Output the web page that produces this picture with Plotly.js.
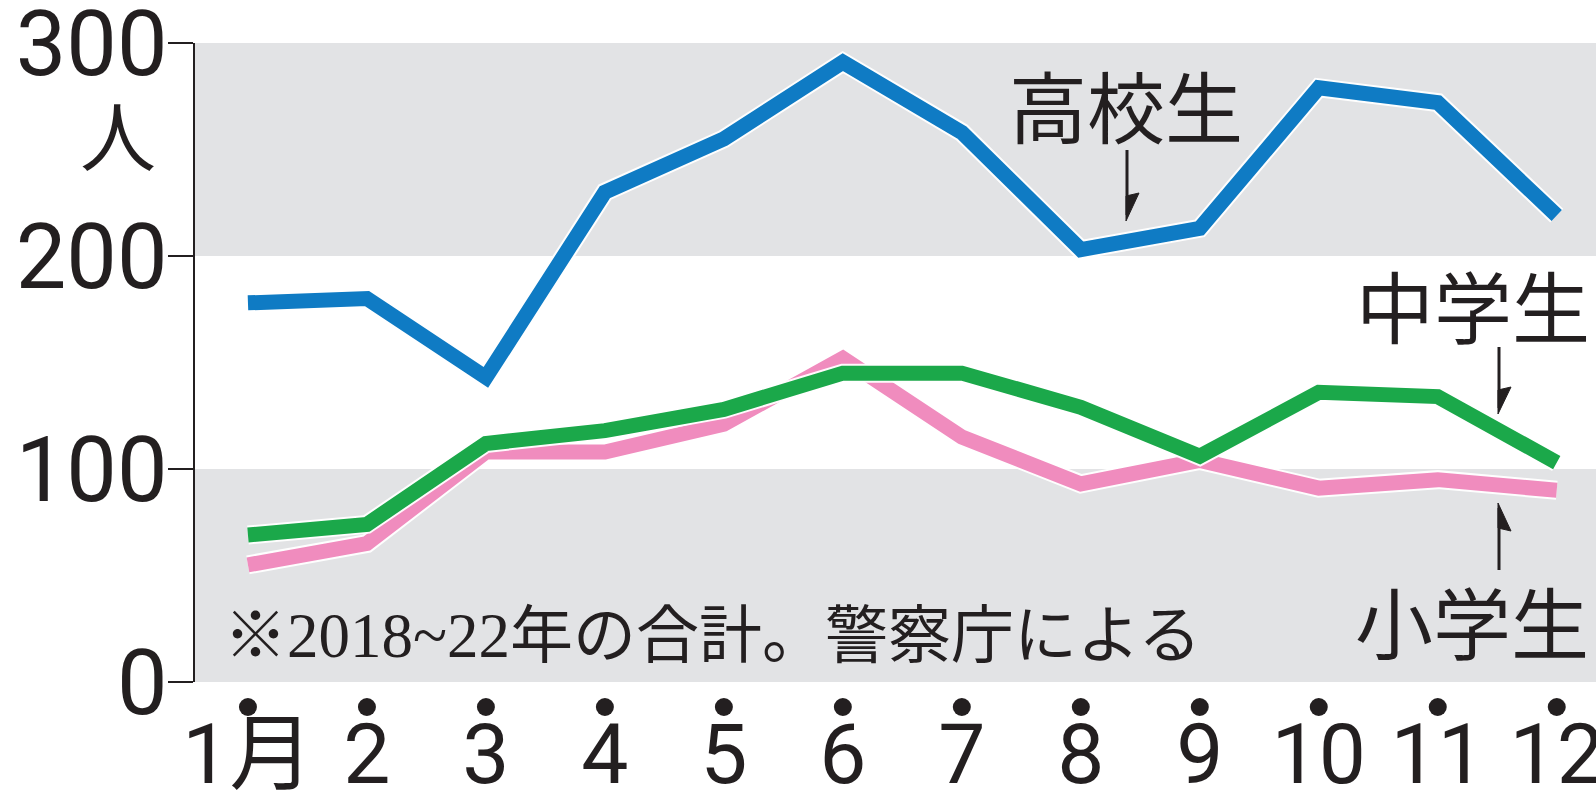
<!DOCTYPE html>
<html>
<head>
<meta charset="utf-8">
<script src="https://cdn.plot.ly/plotly-3.0.1.min.js"></script>
<style>
html,body{margin:0;padding:0;background:#fff;}
#chart{width:1596px;height:802px;}
</style>
</head>
<body>
<div id="chart"></div>
<script>
// ---- data ----
const months = [1, 2, 3, 4, 5, 6, 7, 8, 9, 10, 11, 12];
const monthLabels = ['1月', '2', '3', '4', '5', '6', '7', '8', '9', '10', '11', '12'];
const highSchool = [178, 180, 143, 230, 255, 291, 258, 203, 213, 279, 272, 219];   // 高校生
const juniorHigh = [69, 74, 112, 118, 128, 145, 145, 129, 106, 136, 134, 103];     // 中学生
const elementary = [55, 65, 108, 108, 121, 152, 115, 93, 104, 91, 95, 90];         // 小学生
const yTicks = [0, 100, 200, 300];
const seriesNames = ['小学生', '中学生', '高校生'];
const noteText = '※2018~22年の合計。警察庁による';

// ---- styles ----
const W = 1596, H = 802;
const M = {l: 195, r: 0, t: 43, b: 120};
const BAND = '#e2e3e5';
const COLORS = {elem: '#f08cbe', jhs: '#1ba84a', hs: '#0f7bc4'};
const TXT = '#231f20';
const NUM_FONT = 'Roboto, "Noto Sans CJK JP", sans-serif';
const JP_FONT = '"Noto Sans CJK JP", sans-serif';

// pixel -> paper helpers for decorations
const pw = W - M.l - M.r, ph = H - M.t - M.b;
const PX = px => (px - M.l) / pw;
const PY = py => (H - M.b - py) / ph;

function lineTraces(y, color, name) {
  return [
    {x: months, y: y, type: 'scatter', mode: 'lines', hoverinfo: 'skip',
     line: {color: 'rgba(255,255,255,0.95)', width: 19}, showlegend: false},
    {x: months, y: y, type: 'scatter', mode: 'lines', name: name,
     line: {color: color, width: 15}, showlegend: false}
  ];
}

const data = [].concat(
  lineTraces(elementary, COLORS.elem, seriesNames[0]),
  lineTraces(juniorHigh, COLORS.jhs, seriesNames[1]),
  lineTraces(highSchool, COLORS.hs, seriesNames[2])
);

const shapes = [
  {type: 'rect', xref: 'paper', yref: 'y', x0: 0, x1: 1, y0: yTicks[0], y1: yTicks[1],
   fillcolor: BAND, line: {width: 0}, layer: 'below'},
  {type: 'rect', xref: 'paper', yref: 'y', x0: 0, x1: 1, y0: yTicks[2], y1: yTicks[3],
   fillcolor: BAND, line: {width: 0}, layer: 'below'}
];

// dots above month labels
months.forEach(m => {
  shapes.push({type: 'circle', xref: 'x', yref: 'paper', xsizemode: 'pixel', ysizemode: 'pixel',
    xanchor: m, yanchor: PY(707), x0: -9, x1: 9, y0: -9, y1: 9,
    fillcolor: TXT, line: {width: 0}});
});

// half-headed arrows
function arrow(x, yA, yB, head) {
  shapes.push({type: 'line', xref: 'paper', yref: 'paper',
    x0: PX(x), x1: PX(x), y0: PY(yA), y1: PY(yB), line: {color: TXT, width: 3}});
  const p = head.map((pt, i) => (i ? 'L' : 'M') + PX(pt[0]) + ',' + PY(pt[1])).join(' ') + ' Z';
  shapes.push({type: 'path', xref: 'paper', yref: 'paper', path: p,
    fillcolor: TXT, line: {color: TXT, width: 1}});
}
arrow(1127, 150, 215, [[1126, 221], [1126, 196], [1139, 193]]);
arrow(1499, 347, 408, [[1498, 414], [1498, 390], [1511, 387]]);
arrow(1499, 508, 570, [[1498, 503], [1498, 528], [1511, 531]]);

const annotations = [
  {xref: 'paper', yref: 'paper', x: PX(118), y: PY(133), text: '人', showarrow: false,
   font: {family: JP_FONT, size: 76, color: TXT}, xanchor: 'center', yanchor: 'middle'},
  {xref: 'paper', yref: 'paper', x: PX(1126), y: PY(104), text: seriesNames[2], showarrow: false,
   font: {family: JP_FONT, size: 78, color: TXT}, xanchor: 'center', yanchor: 'middle'},
  {xref: 'paper', yref: 'paper', x: PX(1473), y: PY(304), text: seriesNames[1], showarrow: false,
   font: {family: JP_FONT, size: 78, color: TXT}, xanchor: 'center', yanchor: 'middle'},
  {xref: 'paper', yref: 'paper', x: PX(1472), y: PY(620), text: seriesNames[0], showarrow: false,
   font: {family: JP_FONT, size: 78, color: TXT}, xanchor: 'center', yanchor: 'middle'},
  {xref: 'paper', yref: 'paper', x: PX(222), y: PY(636), text: noteText, showarrow: false,
   font: {family: '"Liberation Serif", "Noto Sans CJK JP", serif', size: 63, color: TXT},
   xanchor: 'left', yanchor: 'middle'}
];

const layout = {
  width: W, height: H,
  margin: M,
  paper_bgcolor: '#ffffff',
  plot_bgcolor: '#ffffff',
  showlegend: false,
  xaxis: {
    range: [0.555, 12.33],
    tickmode: 'array', tickvals: months, ticktext: monthLabels,
    ticks: '', ticklabelstandoff: 16, ticklabeloverflow: 'allow',
    tickfont: {family: NUM_FONT, size: 84, color: TXT},
    showgrid: false, zeroline: false, showline: false, fixedrange: true
  },
  yaxis: {
    range: [0, 300],
    tickmode: 'array', tickvals: yTicks, ticktext: yTicks.map(String),
    ticks: 'outside', ticklen: 25, tickwidth: 2.5, tickcolor: TXT,
    ticklabelstandoff: -18, ticklabeloverflow: 'allow',
    tickfont: {family: NUM_FONT, size: 90, color: TXT},
    showline: true, linecolor: TXT, linewidth: 2.5,
    showgrid: false, zeroline: false, fixedrange: true
  },
  shapes: shapes,
  annotations: annotations
};

Plotly.newPlot('chart', data, layout, {displayModeBar: false, staticPlot: true});
</script>
</body>
</html>
